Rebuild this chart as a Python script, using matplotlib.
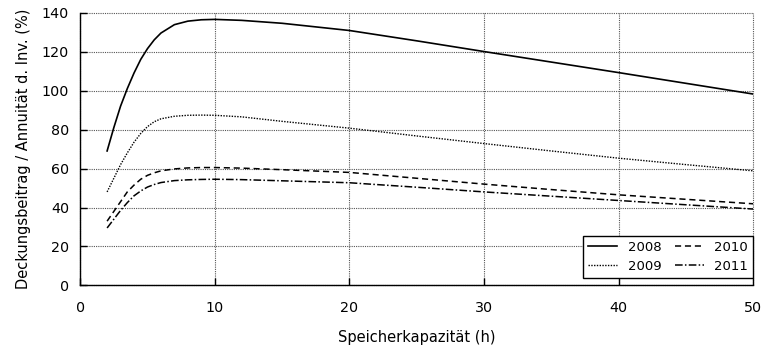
import matplotlib.pyplot as plt

# Speicherkapazität in Stunden
kapazitaet = [2, 2.5, 3, 3.5, 4, 4.5, 5, 5.5, 6, 7, 8, 9, 10, 12, 15, 20, 25, 30, 35, 40, 45, 50]

# Deckungsbeitrag bezogen auf die Annuität der Investition (%)
db_2008 = [69, 81, 92, 101, 109, 116, 121.5, 126, 129.5, 133.8, 135.6, 136.3, 136.5, 136, 134.5, 130.8, 125.5, 120, 114.6, 109.2, 103.7, 98.2]
db_2009 = [48, 55, 62, 68, 73.5, 78, 81.5, 84, 85.5, 86.8, 87.3, 87.4, 87.3, 86.5, 84.2, 80.7, 76.7, 72.8, 69, 65.3, 62, 58.8]
db_2010 = [33, 38, 43, 48, 51.5, 54.5, 56.5, 57.8, 58.8, 59.8, 60.3, 60.5, 60.5, 60.2, 59.4, 58, 55, 52, 49.2, 46.5, 44.2, 41.9]
db_2011 = [29.5, 34, 38.5, 42.5, 46, 48.5, 50.5, 51.8, 52.8, 53.8, 54.2, 54.4, 54.5, 54.3, 53.7, 52.7, 50.4, 48, 45.8, 43.6, 41.4, 39.2]

jahre = ["2008", "2009", "2010", "2011"]

plt.rcParams['font.family'] = ['DejaVu Sans']
plt.rcParams['font.size'] = 10.5

fig = plt.figure(figsize=(7.71, 3.49), dpi=100)
ax = fig.add_axes([0.104, 0.182, 0.873, 0.782])

ax.plot(kapazitaet, db_2008, color='black', lw=1.2, linestyle='-', label=jahre[0])
ax.plot(kapazitaet, db_2009, color='black', lw=1.0, linestyle=(0, (1, 1)), label=jahre[1])
ax.plot(kapazitaet, db_2010, color='black', lw=1.1, linestyle=(0, (4, 2.5)), label=jahre[2])
ax.plot(kapazitaet, db_2011, color='black', lw=1.1, linestyle=(0, (5, 1.5, 1, 1.5)), label=jahre[3])

ax.set_xlim(0, 50)
ax.set_ylim(0, 140)
ax.set_xticks([0, 10, 20, 30, 40, 50])
ax.set_yticks([0, 20, 40, 60, 80, 100, 120, 140])
ax.grid(True, color='#555555', linestyle=(0, (1, 1)), linewidth=0.8)
ax.tick_params(direction='in', length=5, width=1, colors='black', labelsize=10.3)
ax.tick_params(axis='x', pad=11)
ax.tick_params(axis='y', pad=8)

# oben und rechts nur die Gitterlinien, keine Achsenlinien
ax.spines['top'].set_visible(False)
ax.spines['right'].set_visible(False)
for gl in ax.get_xgridlines() + ax.get_ygridlines():
    gl.set_clip_on(False)
ax.spines['left'].set_linewidth(1.0)
ax.spines['bottom'].set_linewidth(1.0)

ax.set_xlabel("Speicherkapazität (h)", labelpad=11)
ax.set_ylabel("Deckungsbeitrag / Annuität d. Inv. (%)", labelpad=8)

leg = ax.legend(ncol=2, loc='lower right', frameon=True, fancybox=False, edgecolor='black',
                framealpha=1, fontsize=9.5, handlelength=2.2, handletextpad=0.8,
                columnspacing=1.0, borderpad=0.4, labelspacing=0.45,
                bbox_to_anchor=(1.0, 0.027), borderaxespad=0)
leg.get_frame().set_linewidth(1.0)

fig.savefig("out.png", dpi=100)
